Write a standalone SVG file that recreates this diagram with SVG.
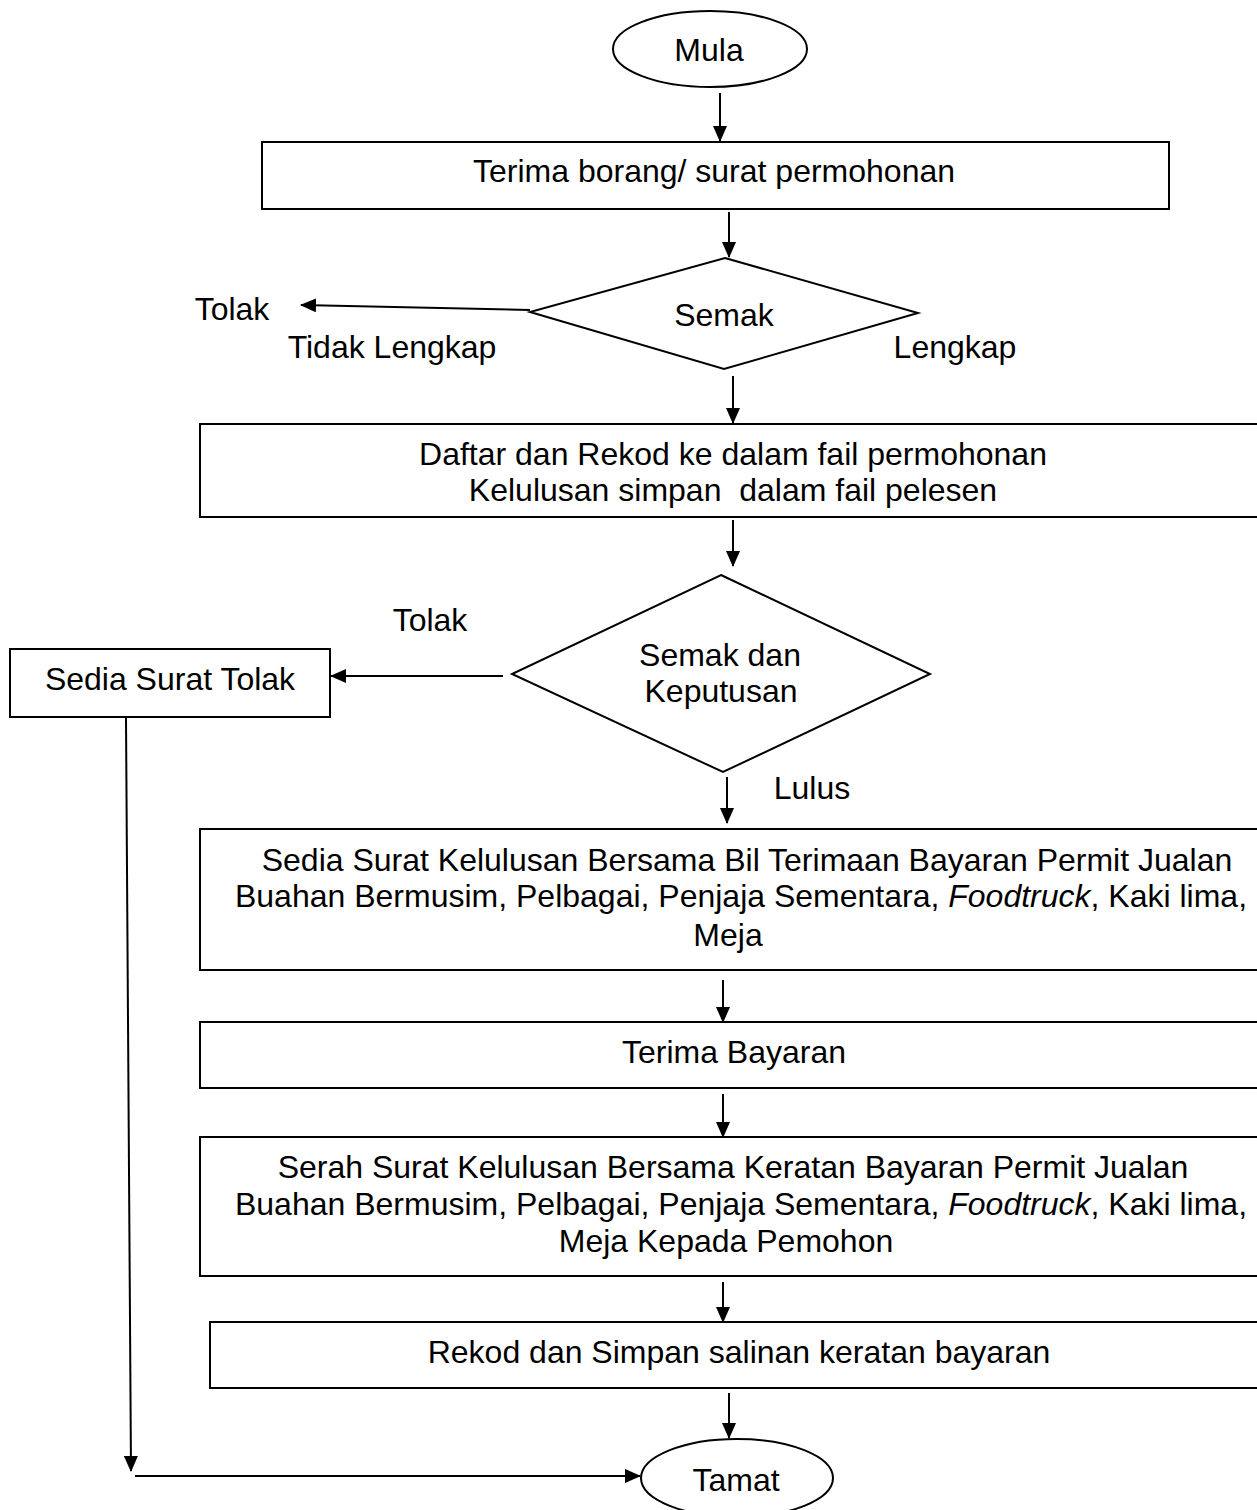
<svg xmlns="http://www.w3.org/2000/svg" width="1257" height="1510" viewBox="0 0 1257 1510">
<style>
.s{fill:#fff;stroke:#000;stroke-width:2}
.t{font-family:"Liberation Sans",Arial,sans-serif;font-size:32px;fill:#000;text-anchor:middle}
.c{fill:none;stroke:#000;stroke-width:2}
</style>
<defs>
<marker id="ah" viewBox="0 0 16 14" refX="15" refY="7" markerWidth="16" markerHeight="14" markerUnits="userSpaceOnUse" orient="auto">
<path d="M0,0 L16,7 L0,14 z" fill="#000"/>
</marker>
</defs>
<rect width="1257" height="1510" fill="#fff"/>
<g id="connectors">
<line class="c" x1="720" y1="93" x2="720" y2="141" marker-end="url(#ah)"/>
<line class="c" x1="729" y1="212" x2="729" y2="257" marker-end="url(#ah)"/>
<line class="c" x1="530" y1="310" x2="301" y2="305" marker-end="url(#ah)"/>
<line class="c" x1="733" y1="376" x2="733" y2="423" marker-end="url(#ah)"/>
<line class="c" x1="733" y1="520" x2="733" y2="566" marker-end="url(#ah)"/>
<line class="c" x1="503" y1="676" x2="331" y2="676" marker-end="url(#ah)"/>
<line class="c" x1="727" y1="777" x2="727" y2="823" marker-end="url(#ah)"/>
<line class="c" x1="723" y1="980" x2="723" y2="1022" marker-end="url(#ah)"/>
<line class="c" x1="723" y1="1094" x2="723" y2="1137" marker-end="url(#ah)"/>
<line class="c" x1="723" y1="1282" x2="723" y2="1322" marker-end="url(#ah)"/>
<line class="c" x1="729" y1="1393" x2="729" y2="1438" marker-end="url(#ah)"/>
<line class="c" x1="126" y1="718" x2="131" y2="1471" marker-end="url(#ah)"/>
<line class="c" x1="135" y1="1476" x2="640" y2="1476" marker-end="url(#ah)"/>
</g>
<g id="mula">
<ellipse class="s" cx="710" cy="49" rx="97" ry="38"/>
<text class="t" x="709" y="61">Mula</text>
</g>
<g id="terima-borang">
<rect class="s" x="262" y="142" width="907" height="67"/>
<text class="t" x="714" y="182">Terima borang/ surat permohonan</text>
</g>
<g id="semak">
<polygon class="s" points="725,258 918,313 724,369 530,312"/>
<text class="t" x="724" y="326">Semak</text>
</g>
<g id="label-tolak1"><text class="t" x="232" y="320">Tolak</text></g>
<g id="label-tidak-lengkap"><text class="t" x="392" y="358">Tidak Lengkap</text></g>
<g id="label-lengkap"><text class="t" x="955" y="358">Lengkap</text></g>
<g id="daftar">
<rect class="s" x="200" y="424" width="1070" height="93"/>
<text class="t" x="733" y="465">Daftar dan Rekod ke dalam fail permohonan</text>
<text class="t" x="733" y="501" xml:space="preserve">Kelulusan simpan  dalam fail pelesen</text>
</g>
<g id="keputusan">
<polygon class="s" points="721,575 930,674 723,772 512,674"/>
<text class="t" x="720" y="666">Semak dan</text>
<text class="t" x="721" y="702">Keputusan</text>
</g>
<g id="label-tolak2"><text class="t" x="430" y="631">Tolak</text></g>
<g id="sedia-tolak">
<rect class="s" x="10" y="649" width="320" height="68"/>
<text class="t" x="170" y="690">Sedia Surat Tolak</text>
</g>
<g id="label-lulus"><text class="t" x="812" y="799">Lulus</text></g>
<g id="sedia-kelulusan">
<rect class="s" x="200" y="829" width="1070" height="141"/>
<text class="t" x="747" y="871">Sedia Surat Kelulusan Bersama Bil Terimaan Bayaran Permit Jualan</text>
<text class="t" x="741" y="907">Buahan Bermusim, Pelbagai, Penjaja Sementara, <tspan font-style="italic">Foodtruck</tspan>, Kaki lima,</text>
<text class="t" x="728" y="946">Meja</text>
</g>
<g id="terima-bayaran">
<rect class="s" x="200" y="1022" width="1070" height="66"/>
<text class="t" x="734" y="1063">Terima Bayaran</text>
</g>
<g id="serah">
<rect class="s" x="200" y="1137" width="1070" height="139"/>
<text class="t" x="733" y="1178">Serah Surat Kelulusan Bersama Keratan Bayaran Permit Jualan</text>
<text class="t" x="741" y="1215">Buahan Bermusim, Pelbagai, Penjaja Sementara, <tspan font-style="italic">Foodtruck</tspan>, Kaki lima,</text>
<text class="t" x="726" y="1252">Meja Kepada Pemohon</text>
</g>
<g id="rekod">
<rect class="s" x="210" y="1322" width="1060" height="66"/>
<text class="t" x="739" y="1363">Rekod dan Simpan salinan keratan bayaran</text>
</g>
<g id="tamat">
<ellipse class="s" cx="737" cy="1478" rx="96" ry="39"/>
<text class="t" x="736" y="1491">Tamat</text>
</g>
</svg>
